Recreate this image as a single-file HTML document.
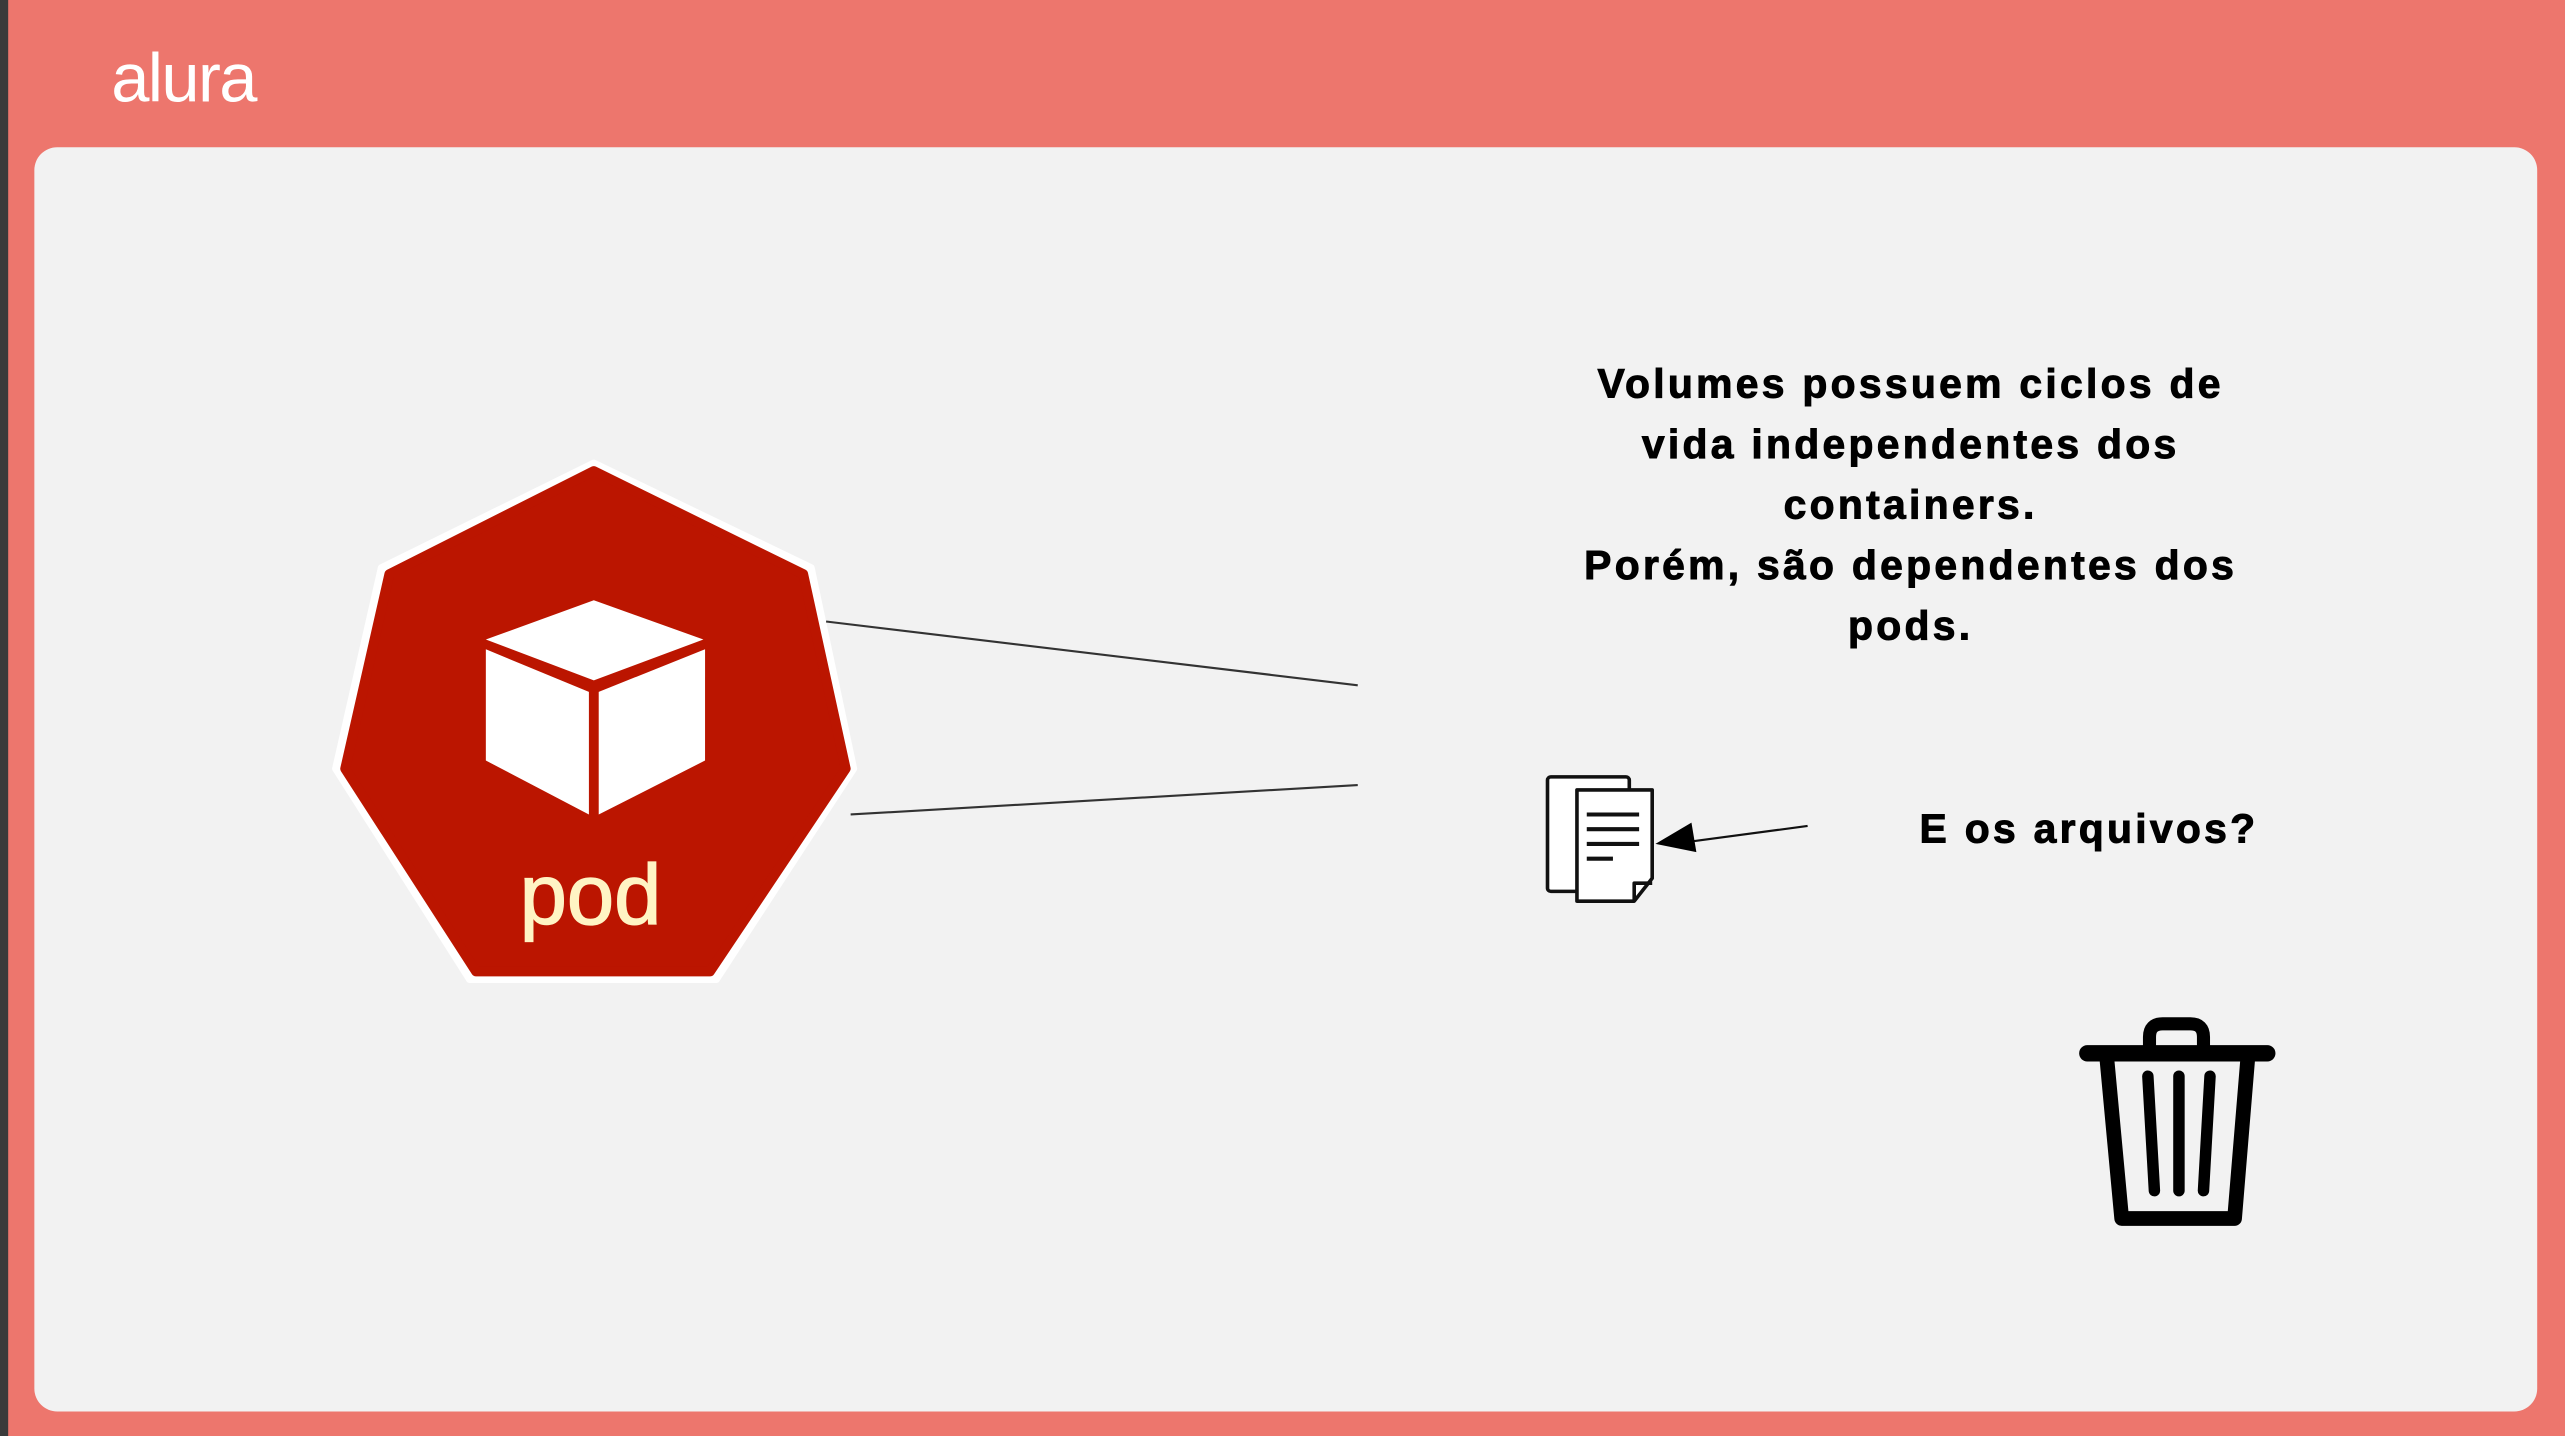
<!DOCTYPE html>
<html><head><meta charset="utf-8"><style>
html,body{margin:0;padding:0;width:2565px;height:1436px;overflow:hidden;background:#ED766D}
svg{display:block}
</style></head><body>
<svg width="2565" height="1436" viewBox="0 0 1568 878" preserveAspectRatio="none" xmlns="http://www.w3.org/2000/svg">
<rect x="0" y="0" width="1568" height="878" fill="#ED766D"/>
<rect x="0" y="0" width="5" height="878" fill="#3a3a3a"/>
<text x="68" y="62" font-family="Liberation Sans, sans-serif" font-size="42" fill="#fff" letter-spacing="-1">alura</text>
<rect x="21" y="90" width="1530" height="773" rx="14" fill="#F2F2F2"/>
<polygon points="363,283 496,347 522,470 438,599 287,599 205,470 233,347" fill="#fff" stroke="#fff" stroke-width="4" stroke-linejoin="round"/>
<polygon points="363,288 491,351 517,470 434,594 291,594 211,470 238,351" fill="#BB1500" stroke="#BB1500" stroke-width="6" stroke-linejoin="round"/>
<polygon points="363,367 430,391 363,416 297,391" fill="#fff"/>
<polygon points="297,397 360,423 360,498 297,465" fill="#fff"/>
<polygon points="366,423 431,397 431,465 366,498" fill="#fff"/>
<text x="361" y="565" text-anchor="middle" font-family="Liberation Sans, sans-serif" font-size="52" fill="#FFF4C4" stroke="#FFF4C4" stroke-width="0.8">pod</text>
<line x1="505" y1="380" x2="830" y2="419" stroke="#333" stroke-width="1.3"/>
<line x1="520" y1="498" x2="830" y2="480" stroke="#333" stroke-width="1.3"/>
<g font-family="Liberation Sans, sans-serif" font-weight="bold" font-size="25" fill="#000" stroke="#000" stroke-width="0.6" text-anchor="middle" letter-spacing="2">
<text x="1168" y="243">Volumes possuem ciclos de</text>
<text x="1168" y="280">vida independentes dos</text>
<text x="1168" y="317">containers.</text>
<text x="1168" y="354">Porém, são dependentes dos</text>
<text x="1168" y="391">pods.</text>
<text x="1277" y="515" letter-spacing="2">E os arquivos?</text>
</g>
<g fill="#fff" stroke="#111" stroke-width="2.2" stroke-linejoin="round">
<rect x="946" y="475" width="50" height="70" rx="2"/>
<path d="M964,483 H1010 V537 L999,551 H964 Z"/>
<path d="M999,551 V540 H1010" fill="none"/>
</g>
<g stroke="#111" stroke-width="2.5">
<line x1="970" y1="498" x2="1002" y2="498"/>
<line x1="970" y1="507" x2="1002" y2="507"/>
<line x1="970" y1="516" x2="1002" y2="516"/>
<line x1="970" y1="525" x2="986" y2="525"/>
</g>
<line x1="1105" y1="505" x2="1030" y2="515" stroke="#111" stroke-width="1.3"/>
<polygon points="1012,516 1034,503 1037,521" fill="#000"/>
<g fill="none" stroke="#000" stroke-linecap="round" stroke-linejoin="round">
<path d="M1314,640 V634 Q1314,626 1322,626 H1339 Q1347,626 1347,634 V640" stroke-width="8"/>
<line x1="1276" y1="644" x2="1386" y2="644" stroke-width="10"/>
<path d="M1288,648 L1297,745 H1366 L1374,648" stroke-width="9"/>
<line x1="1313" y1="658" x2="1317" y2="728" stroke-width="7"/>
<line x1="1332" y1="658" x2="1332" y2="728" stroke-width="7"/>
<line x1="1351" y1="658" x2="1347" y2="728" stroke-width="7"/>
</g>
</svg>
</body></html>
